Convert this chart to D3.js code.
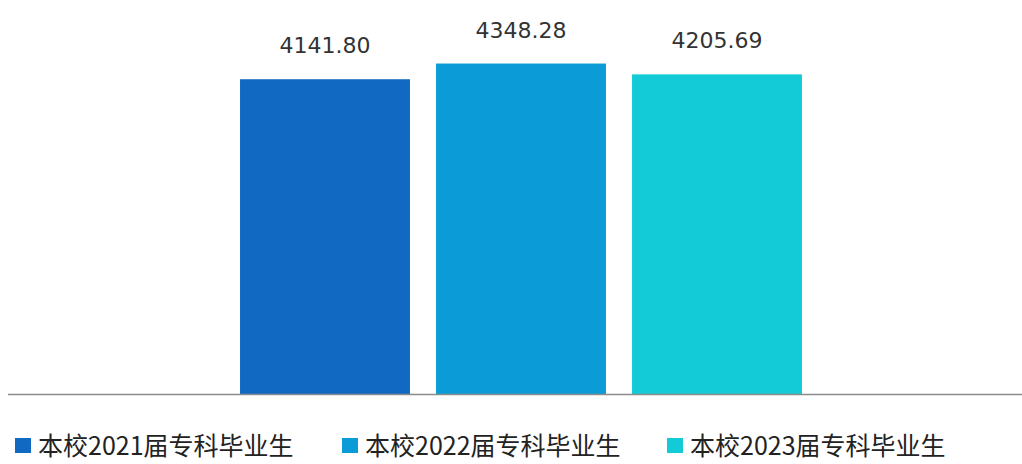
<!DOCTYPE html>
<html>
<head>
<meta charset="utf-8">
<script src="https://cdn.jsdelivr.net/npm/d3@7"></script>
<style>
  body { margin: 0; background: #fff; }
  svg { display: block; }
</style>
</head>
<body>
<svg width="1022" height="464"></svg>
<script>
var categories = ["本校2021届专科毕业生", "本校2022届专科毕业生", "本校2023届专科毕业生"];
var values = [4141.80, 4348.28, 4205.69];
var colors = ["#1169c1", "#0b9bd6", "#12cbd6"];

var svg = d3.select("svg"),
    width = +svg.attr("width"),
    height = +svg.attr("height");

var baseY = 394;

var x = d3.scaleBand()
    .domain(categories)
    .range([227, 815])
    .paddingInner(0.133)
    .paddingOuter(0.0665);

var y = d3.scaleLinear()
    .domain([0, 5000])
    .range([baseY, baseY - 380]);

var color = d3.scaleOrdinal().domain(categories).range(colors);

var data = categories.map(function(c, i) { return { name: c, value: values[i] }; });

svg.selectAll(".bar")
    .data(data)
    .enter().append("rect")
    .attr("class", "bar")
    .attr("x", function(d) { return x(d.name); })
    .attr("y", function(d) { return y(d.value); })
    .attr("width", x.bandwidth())
    .attr("height", function(d) { return y(0) - y(d.value); })
    .attr("fill", function(d) { return color(d.name); });

svg.selectAll(".val")
    .data(data)
    .enter().append("text")
    .attr("class", "val")
    .attr("x", function(d) { return x(d.name) + x.bandwidth() / 2; })
    .attr("y", function(d) { return y(d.value) - 26; })
    .attr("text-anchor", "middle")
    .style("font-family", "'DejaVu Sans', sans-serif")
    .style("font-size", "22px")
    .style("fill", "#333")
    .text(function(d) { return d.value.toFixed(2); });

// baseline
svg.append("line")
    .attr("x1", 8).attr("x2", width)
    .attr("y1", baseY + 0.5).attr("y2", baseY + 0.5)
    .attr("stroke", "#8c8c8c")
    .attr("stroke-width", 1.5);

// legend
var legendX = [15, 342, 667];
var legend = svg.selectAll(".legend")
    .data(categories)
    .enter().append("g")
    .attr("class", "legend")
    .attr("transform", function(d, i) { return "translate(" + legendX[i] + ",444)"; });

legend.append("rect")
    .attr("x", 0).attr("y", -6)
    .attr("width", 16).attr("height", 15)
    .attr("fill", function(d) { return color(d); });

legend.append("text")
    .attr("x", 23)
    .attr("y", 0)
    .attr("dominant-baseline", "central")
    .style("font-family", "'Noto Sans CJK SC', sans-serif")
    .style("font-size", "25px")
    .style("fill", "#222")
    .text(function(d) { return d; });
</script>
</body>
</html>
